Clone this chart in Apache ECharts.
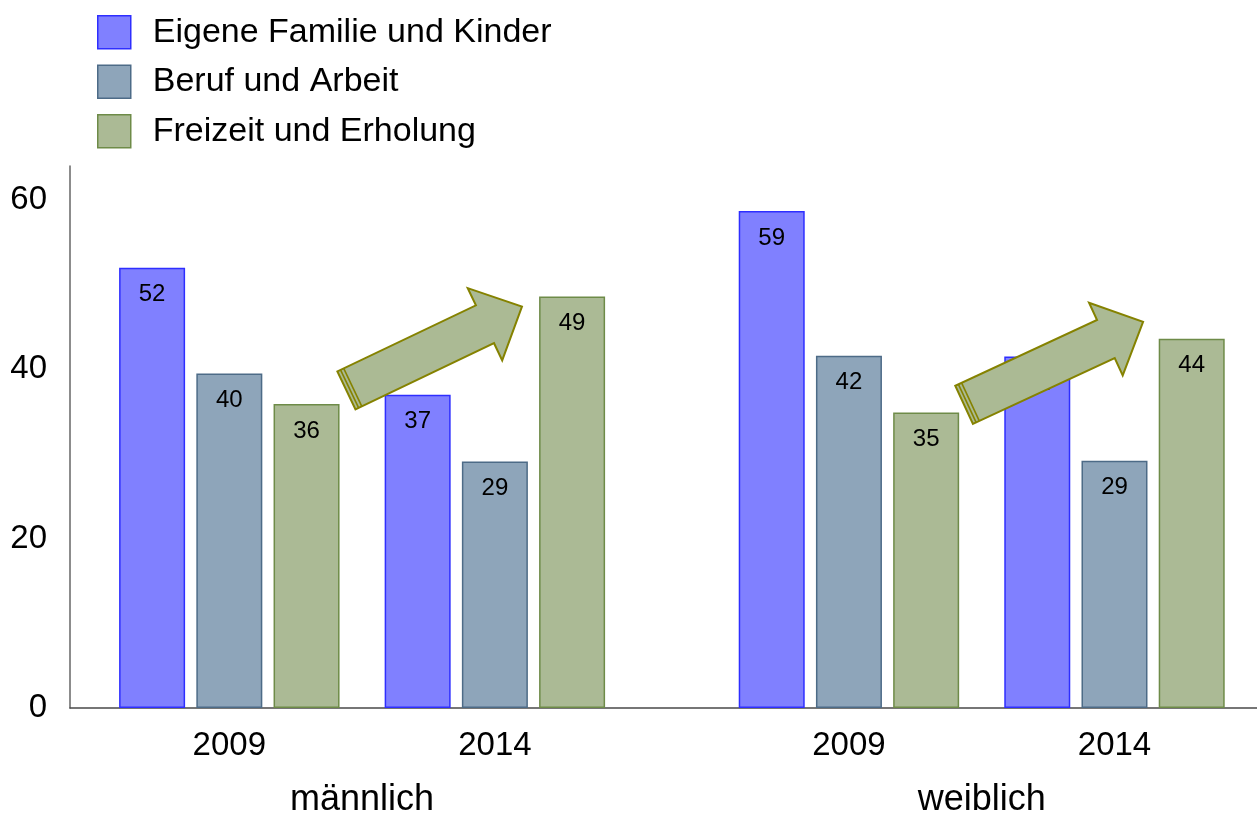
<!DOCTYPE html>
<html>
<head>
<meta charset="utf-8">
<script src="https://cdn.jsdelivr.net/npm/echarts@6/dist/echarts.min.js"></script>
<style>html,body{margin:0;padding:0;background:#fff;}#chart{width:1257px;height:816px;}</style>
</head>
<body>
<div id="chart"></div>
<script>
// ---- data ----
const groups = ['männlich', 'weiblich'];
const years = ['2009', '2014'];
const seriesNames = ['Eigene Familie und Kinder', 'Beruf und Arbeit', 'Freizeit und Erholung'];
// values in order: männlich 2009, männlich 2014, weiblich 2009, weiblich 2014
const familie = [52, 37, 58.7, 41.5];
const beruf = [39.5, 29.1, 41.6, 29.2];
const freizeit = [35.9, 48.6, 34.9, 43.6];
const yTicks = [0, 20, 40, 60];
// trend arrows (from / to in axis units: x position, value)
const arrows = [[0.441, 37.5, 1.102, 47.4], [2.767, 35.8, 3.441, 45.6]];

// ---- layout helpers ----
const groupSpacing = 7 / 3;
const positions = [];
const catLabels = [];
groups.forEach((g, gi) => years.forEach((y, yi) => { positions.push(gi * groupSpacing + yi); catLabels.push(y); }));
const groupCenters = groups.map((g, gi) => gi * groupSpacing + (years.length - 1) / 2);

const FONT = "'Liberation Sans', Arial, sans-serif";
const fills = ['#8080ff', '#8ea5ba', '#abba95'];
const borders = ['#2e2eff', '#4d6b87', '#6e8b48'];
const values = [familie, beruf, freizeit];

const xMin = -0.6, xMax = 3.87;

const barSeries = seriesNames.map((name, si) => ({
  type: 'bar',
  name: name,
  xAxisIndex: 0,
  barWidth: 66,
  barGap: '17%',
  z: 2,
  data: positions.map((p, i) => [p, values[si][i]]),
  itemStyle: { color: fills[si], borderColor: borders[si], borderWidth: 1.5 },
  label: {
    show: true, position: 'insideTop', distance: 15,
    fontFamily: FONT, fontSize: 24, color: '#000',
    formatter: (p) => String(Math.round(p.value[1]))
  }
}));

const arrowSeries = {
  type: 'custom',
  name: 'arrows',
  xAxisIndex: 0,
  z: 10,
  silent: true,
  encode: { x: [0, 2], y: [1, 3] },
  data: arrows,
  renderItem: function (params, api) {
    const p0 = api.coord([api.value(0), api.value(1)]);
    const p1 = api.coord([api.value(2), api.value(3)]);
    const dx = p1[0] - p0[0], dy = p1[1] - p0[1];
    const len = Math.sqrt(dx * dx + dy * dy);
    const ux = dx / len, uy = dy / len;
    const nx = -uy, ny = ux;
    const sw = 21, hw = 40, hl = 41;
    const bx = p1[0] - ux * hl, by = p1[1] - uy * hl;
    const pts = [
      [p0[0] + nx * sw, p0[1] + ny * sw],
      [bx + nx * sw, by + ny * sw],
      [bx + nx * hw, by + ny * hw],
      [p1[0], p1[1]],
      [bx - nx * hw, by - ny * hw],
      [bx - nx * sw, by - ny * sw],
      [p0[0] - nx * sw, p0[1] - ny * sw]
    ];
    const children = [{
      type: 'polygon', shape: { points: pts },
      style: { fill: '#abba94', stroke: '#858200', lineWidth: 2 }
    }];
    [3.5, 7].forEach(off => {
      const cx = p0[0] + ux * off, cy = p0[1] + uy * off;
      children.push({
        type: 'line',
        shape: { x1: cx + nx * sw, y1: cy + ny * sw, x2: cx - nx * sw, y2: cy - ny * sw },
        style: { stroke: '#858200', lineWidth: 1.6 }
      });
    });
    return { type: 'group', children: children };
  }
};

const chart = echarts.init(document.getElementById('chart'), null, { renderer: 'canvas' });
chart.setOption({
  animation: false,
  backgroundColor: '#fff',
  textStyle: { fontFamily: FONT },
  legend: {
    orient: 'vertical', left: 92, top: 10,
    itemWidth: 33, itemHeight: 33, itemGap: 15,
    icon: 'rect',
    data: seriesNames.map((n, i) => ({ name: n, itemStyle: { color: fills[i], borderColor: borders[i], borderWidth: 1.5 } })),
    textStyle: { fontFamily: FONT, fontSize: 34, lineHeight: 33, color: '#000', padding: [0, 0, 0, 17] },
    selectedMode: false
  },
  grid: { left: 70, right: 0, top: 166, bottom: 108, containLabel: false, outerBoundsMode: 'none' },
  xAxis: [{
    type: 'value', min: xMin, max: xMax, position: 'bottom',
    axisLine: { show: true, onZero: false, lineStyle: { color: '#4a4a4a', width: 1.5 } },
    axisTick: { show: false }, splitLine: { show: false },
    axisLabel: {
      customValues: positions, margin: 21,
      fontFamily: FONT, fontSize: 33, color: '#000',
      formatter: (v) => { const i = positions.findIndex(p => Math.abs(p - v) < 1e-6); return i >= 0 ? catLabels[i] : ''; }
    }
  }, {
    type: 'value', min: xMin, max: xMax, position: 'bottom', gridIndex: 0,
    axisLine: { show: false, onZero: false }, axisTick: { show: false }, splitLine: { show: false },
    axisLabel: {
      customValues: groupCenters, margin: 74,
      fontFamily: FONT, fontSize: 36, color: '#000',
      formatter: (v) => { const i = groupCenters.findIndex(p => Math.abs(p - v) < 1e-6); return i >= 0 ? groups[i] : ''; }
    }
  }],
  yAxis: {
    type: 'value', min: 0, max: 64,
    axisLine: { show: true, onZero: false, lineStyle: { color: '#666', width: 1.5 } },
    axisTick: { show: false }, splitLine: { show: false },
    axisLabel: { customValues: yTicks, margin: 23, fontFamily: FONT, fontSize: 33, color: '#000' }
  },
  series: barSeries.concat([arrowSeries])
});
</script>
</body>
</html>
